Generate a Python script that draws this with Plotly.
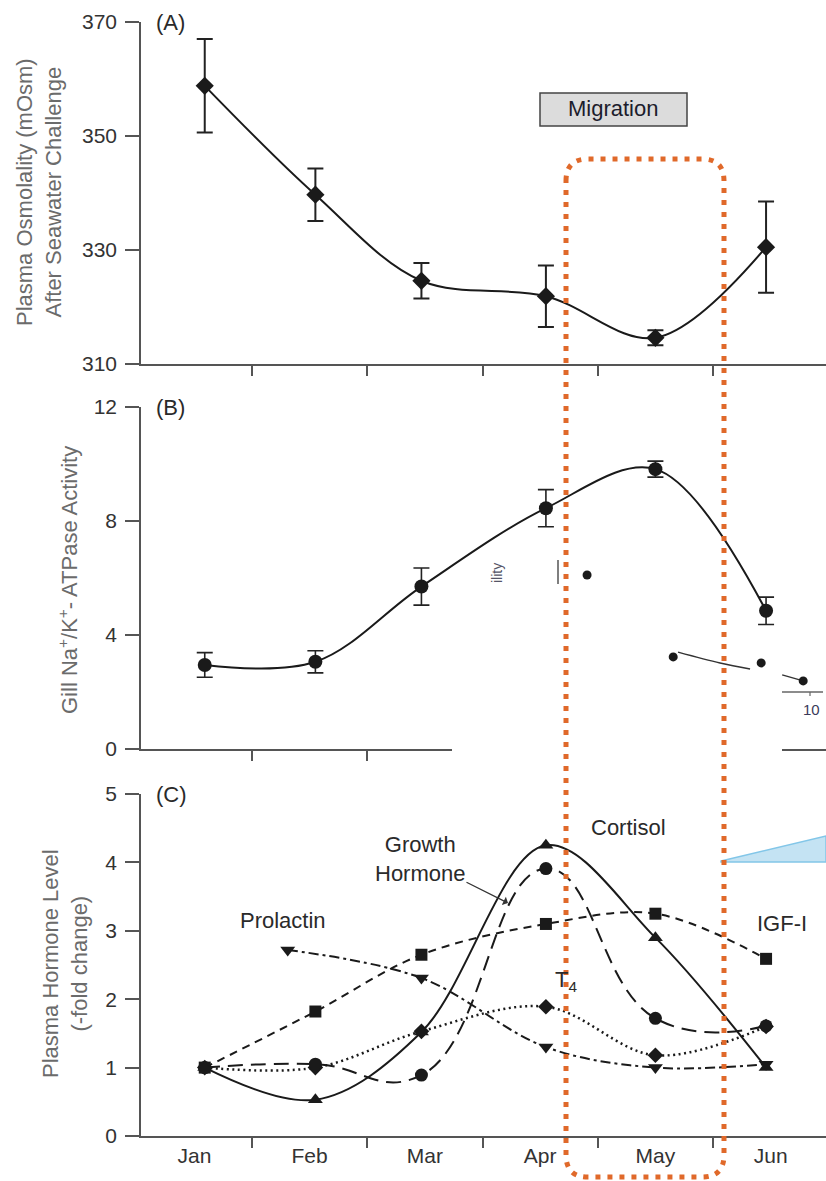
import plotly.graph_objects as go

# ---------------- data ----------------
months = ["Jan", "Feb", "Mar", "Apr", "May", "Jun"]
month_pos = [0, 1, 2, 3, 4, 5]
sample_month = [0.09, 1.05, 1.97, 3.05, 4.0, 4.96]   # sampling dates (month units)

# (A) plasma osmolality after seawater challenge
osm_mean = [358.8, 339.7, 324.6, 321.9, 314.6, 330.5]
osm_err = [8.2, 4.6, 3.1, 5.4, 1.3, 8.0]

# (B) gill Na+/K+-ATPase activity
atp_mean = [2.95, 3.06, 5.7, 8.45, 9.82, 4.85]
atp_err = [0.43, 0.39, 0.65, 0.65, 0.28, 0.48]

# (C) hormones (-fold change)
cortisol = [1.0, 0.53, 1.52, 4.25, 2.9, 1.0]
growth_hormone = [1.0, 1.05, 0.89, 3.91, 1.72, 1.61]
igf1 = [1.0, 1.82, 2.65, 3.1, 3.25, 2.59]
t4 = [1.0, 1.0, 1.53, 1.89, 1.18, 1.6]
prolactin_month = [0.81, 1.97, 3.05, 4.0, 4.96]
prolactin = [2.72, 2.31, 1.3, 1.0, 1.05]

# stray fragment of a pasted inset (panel B)
inset_pt_x = [2.57, 5.44, 8.37, 9.77]
inset_pt_y = [3.9, 1.17, 0.97, 0.37]
inset_curve_x = [5.6, 7.0, 8.0]
inset_curve_y = [1.33, 0.97, 0.77]
inset_seg_x = [9.07, 9.77]
inset_seg_y = [0.57, 0.37]

# ---------------- styling helpers ----------------
FONT = "Liberation Sans, Arial, sans-serif"
INK = "#1a1a1a"
AXC = "#555555"
ORANGE = "#E0692A"
W, H = 826, 1181
ML, MT, MB = 141, 22, 45
PW, PH = W - ML, H - MT - MB


def fx(p):
    return (p - ML) / PW


def fy(p):
    return (H - MB - p) / PH


fig = go.Figure()

# (A)
fig.add_trace(go.Scatter(
    x=sample_month, y=osm_mean, mode="lines+markers",
    line=dict(color=INK, width=2, shape="spline", smoothing=1.0),
    marker=dict(symbol="diamond", size=14, color=INK),
    error_y=dict(type="data", array=osm_err, color="#222", thickness=2, width=8),
    xaxis="x", yaxis="y", showlegend=False))

# (B)
fig.add_trace(go.Scatter(
    x=sample_month, y=atp_mean, mode="lines+markers",
    line=dict(color=INK, width=2, shape="spline", smoothing=1.0),
    marker=dict(symbol="circle", size=14, color=INK),
    error_y=dict(type="data", array=atp_err, color="#222", thickness=1.6, width=8),
    xaxis="x2", yaxis="y2", showlegend=False))

# (C)
series = [
    (igf1, sample_month, "square", "8px,6px", 12, 1.0, 2),
    (t4, sample_month, "diamond", "2px,3.5px", 12, 1.0, 2.5),
    (prolactin, prolactin_month, "triangle-down", "10px,4px,3px,4px", 13, 1.0, 2),
    (growth_hormone, sample_month, "circle", "15px,8px", 13, 1.3, 2),
    (cortisol, sample_month, "triangle-up", "solid", 13, 1.0, 2),
]
for ys, xs, sym, dash, sz, sm, lw in series:
    fig.add_trace(go.Scatter(
        x=xs, y=ys, mode="lines+markers",
        line=dict(color=INK, width=lw, dash=dash, shape="spline", smoothing=sm),
        marker=dict(symbol=sym, size=sz, color=INK),
        xaxis="x3", yaxis="y3", showlegend=False))

# stray inset fragment
fig.add_trace(go.Scatter(x=inset_curve_x, y=inset_curve_y, mode="lines",
                         line=dict(color="#333", width=1.5, shape="spline"),
                         xaxis="x4", yaxis="y4", showlegend=False))
fig.add_trace(go.Scatter(x=inset_seg_x, y=inset_seg_y, mode="lines",
                         line=dict(color="#333", width=1.5),
                         xaxis="x4", yaxis="y4", showlegend=False))
fig.add_trace(go.Scatter(x=inset_pt_x, y=inset_pt_y, mode="markers",
                         marker=dict(symbol="circle", size=9, color=INK),
                         xaxis="x4", yaxis="y4", showlegend=False))

xr = [-0.463, 5.48]
tickfont = dict(family=FONT, size=21, color="#333")


def xax(show_labels):
    d = dict(range=xr, showline=True, linecolor=AXC, linewidth=1.5,
             showgrid=False, zeroline=False, fixedrange=True,
             tickmode="array", tickvals=month_pos, ticktext=months, ticks="",
             showticklabels=show_labels, tickfont=tickfont,
             minor=dict(tickmode="array", tickvals=[0.5, 1.5, 2.5, 3.5, 4.5],
                        ticks="outside", ticklen=10, tickwidth=1.5, tickcolor=AXC))
    return d


def yax(rng, vals, dom):
    return dict(range=rng, domain=dom, tickmode="array", tickvals=vals,
                showline=True, linecolor=AXC, linewidth=1.5, ticks="outside",
                ticklen=14, tickwidth=1.5, tickcolor=AXC, tickfont=tickfont,
                showgrid=False, zeroline=False, ticklabelstandoff=4)


dA = [fy(364), fy(22)]
dB = [fy(749), fy(407)]
dC = [0, fy(794)]

fig.update_layout(
    width=W, height=H,
    margin=dict(l=ML, r=0, t=MT, b=MB),
    paper_bgcolor="white", plot_bgcolor="rgba(0,0,0,0)",
    font=dict(family=FONT, color="#333"),
    xaxis=dict(**xax(False), anchor="y"),
    yaxis=dict(**yax([310, 370], [310, 330, 350, 370], dA), anchor="x"),
    xaxis2=dict(**xax(False), anchor="y2"),
    yaxis2=dict(**yax([0, 12], [0, 4, 8, 12], dB), anchor="x2"),
    xaxis3=dict(**xax(True), anchor="y3"),
    yaxis3=dict(**yax([0, 5], [0, 1, 2, 3, 4, 5], dC), anchor="x3"),
    xaxis4=dict(domain=[fx(452), fx(823)], range=[-1.93, 10.43], visible=False,
                anchor="y4", fixedrange=True),
    yaxis4=dict(domain=[fy(692), fy(560)], range=[0, 4.4], visible=False,
                anchor="x4", fixedrange=True),
)

ann = []
title_font = dict(family=FONT, size=22, color="#6b6b6b")
ann.append(dict(text="Plasma Osmolality (mOsm)<br>After Seawater Challenge",
                x=fx(39), y=fy(192), xref="paper", yref="paper", textangle=-90,
                showarrow=False, xanchor="center", yanchor="middle", font=title_font))
ann.append(dict(text="Gill Na<sup>+</sup>/K<sup>+</sup>- ATPase Activity",
                x=fx(68), y=fy(580), xref="paper", yref="paper", textangle=-90,
                showarrow=False, xanchor="center", yanchor="middle", font=title_font))
ann.append(dict(text="Plasma Hormone Level<br>(-fold change)",
                x=fx(65), y=fy(964), xref="paper", yref="paper", textangle=-90,
                showarrow=False, xanchor="center", yanchor="middle", font=title_font))

lab_font = dict(family=FONT, size=22, color="#2a2a2a")
for t, py in [("(A)", 22), ("(B)", 407), ("(C)", 794)]:
    ann.append(dict(text=t, x=fx(154), y=fy(py), xref="paper", yref="paper",
                    showarrow=False, xanchor="left", yanchor="middle", font=lab_font))

for t, px, py in [("Cortisol", 628, 827), ("Prolactin", 283, 920),
                  ("IGF-I", 782, 923), ("T<sub>4</sub>", 566, 981)]:
    ann.append(dict(text=t, x=fx(px), y=fy(py), xref="paper", yref="paper",
                    showarrow=False, xanchor="center", yanchor="middle", font=lab_font))

ann.append(dict(text="Growth<br>Hormone", x=fx(508), y=fy(903), xref="paper", yref="paper",
                ax=-88, ay=-44, showarrow=True, arrowhead=1, arrowsize=1.2, arrowwidth=1.3,
                arrowcolor="#333", font=lab_font, xanchor="center", yanchor="middle"))

ann.append(dict(text="Migration", x=fx(613), y=fy(109), xref="paper", yref="paper",
                showarrow=False, xanchor="center", yanchor="middle",
                font=dict(family=FONT, size=22, color="#1c1c2c")))

ann.append(dict(text="ility", x=fx(497), y=fy(573), xref="paper", yref="paper",
                textangle=-90, showarrow=False, xanchor="center", yanchor="middle",
                font=dict(family=FONT, size=14, color="#556")))
ann.append(dict(text="10", x=fx(811), y=fy(709), xref="paper", yref="paper",
                showarrow=False, xanchor="center", yanchor="middle",
                font=dict(family=FONT, size=15, color="#3a3a5a")))

shapes = []
# white patch breaking panel B axis
shapes.append(dict(type="rect", xref="paper", yref="paper", x0=fx(452), x1=fx(782),
                   y0=fy(764), y1=fy(745), fillcolor="white", line=dict(width=0),
                   layer="above"))
# inset axis fragment
shapes.append(dict(type="line", xref="paper", yref="paper", x0=fx(782), x1=fx(823),
                   y0=fy(692), y1=fy(692), line=dict(color="#666", width=1.3), layer="above"))
shapes.append(dict(type="line", xref="paper", yref="paper", x0=fx(810), x1=fx(810),
                   y0=fy(692), y1=fy(696), line=dict(color="#666", width=1.2), layer="above"))
shapes.append(dict(type="line", xref="paper", yref="paper", x0=fx(558), x1=fx(558),
                   y0=fy(560), y1=fy(584), line=dict(color="#555", width=1.5), layer="above"))
# Migration box
shapes.append(dict(type="rect", xref="paper", yref="paper", x0=fx(540), x1=fx(687),
                   y0=fy(126), y1=fy(93), fillcolor="#DCDCDC",
                   line=dict(color="#444", width=1.5), layer="below"))
# blue wedge
shapes.append(dict(type="path", xref="paper", yref="paper",
                   path=f"M {fx(721)},{fy(861)} L {fx(826)},{fy(836)} L {fx(826)},{fy(862)} L {fx(721)},{fy(862)} Z",
                   fillcolor="#C4E3F3", line=dict(color="#82C6E8", width=1.5), layer="above"))
# orange dotted rounded rectangle
x0, x1, y0, y1, r = 566, 724, 159, 1177, 22
def P(a, b):
    return f"{fx(a)},{fy(b)}"
path = (f"M {P(x0, y0 + r)} Q {P(x0, y0)} {P(x0 + r, y0)} L {P(x1 - r, y0)} "
        f"Q {P(x1, y0)} {P(x1, y0 + r)} L {P(x1, y1 - r)} Q {P(x1, y1)} {P(x1 - r, y1)} "
        f"L {P(x0 + r, y1)} Q {P(x0, y1)} {P(x0, y1 - r)} Z")
shapes.append(dict(type="path", xref="paper", yref="paper", path=path,
                   line=dict(color=ORANGE, width=5, dash="5px,7px"), layer="above"))

fig.update_layout(annotations=ann, shapes=shapes)

fig.write_html("out.html")
